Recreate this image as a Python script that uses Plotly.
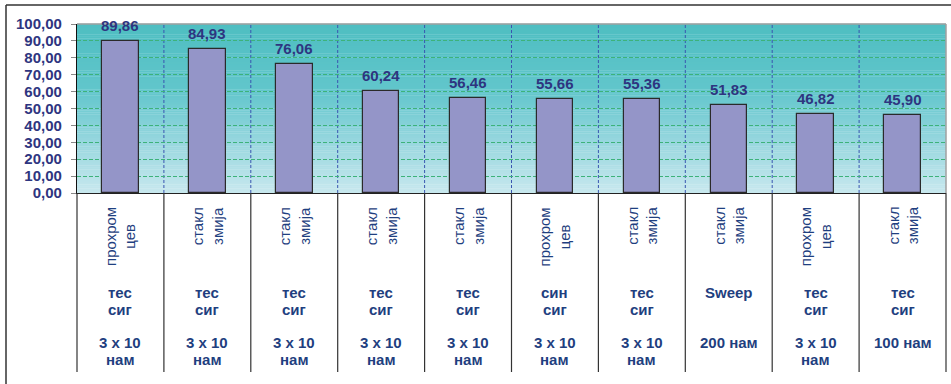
import plotly.graph_objects as go

# ---- data ----
rot_labels = [["прохром", "цев"], ["стакл", "змија"], ["стакл", "змија"], ["стакл", "змија"],
              ["стакл", "змија"], ["прохром", "цев"], ["стакл", "змија"], ["стакл", "змија"],
              ["прохром", "цев"], ["стакл", "змија"]]
signal_labels = [["тес", "сиг"], ["тес", "сиг"], ["тес", "сиг"], ["тес", "сиг"], ["тес", "сиг"],
                 ["син", "сиг"], ["тес", "сиг"], ["Sweep"], ["тес", "сиг"], ["тес", "сиг"]]
length_labels = [["3 x 10", "нам"], ["3 x 10", "нам"], ["3 x 10", "нам"], ["3 x 10", "нам"],
                 ["3 x 10", "нам"], ["3 x 10", "нам"], ["3 x 10", "нам"], ["200 нам"],
                 ["3 x 10", "нам"], ["100 нам"]]
values = [89.86, 84.93, 76.06, 60.24, 56.46, 55.66, 55.36, 51.83, 46.82, 45.90]
y_ticks = [0, 10, 20, 30, 40, 50, 60, 70, 80, 90, 100]

# ---- layout geometry (pixels) ----
W, H = 951, 384
L, R, T, B = 77, 946, 24, 193
n = len(values)
pw, ph = R - L, B - T

def px_x(px):
    return (px - L) / pw

def px_y(py):
    return (B - py) / ph

NAVY = "#2E3580"
LBL = "#1F3F80"
FONT = "Liberation Sans, Arial, sans-serif"

fig = go.Figure()
fig.add_trace(go.Bar(
    x=list(range(n)), y=values, width=0.42,
    marker=dict(color="#9495C8", line=dict(color="#2a2a2a", width=1.2)),
    hoverinfo="skip",
))

shapes = []
# gradient background
stops = [(0.0, (200, 232, 238)), (0.3, (152, 215, 223)), (0.6, (98, 198, 204)), (1.0, (78, 190, 193))]

def col(t):
    for (a, ca), (b, cb) in zip(stops[:-1], stops[1:]):
        if a <= t <= b:
            f = (t - a) / (b - a)
            return "rgb(%d,%d,%d)" % tuple(round(ca[k] + (cb[k] - ca[k]) * f) for k in range(3))
    return "rgb(%d,%d,%d)" % stops[-1][1]

NS = 80
for i in range(NS):
    y0, y1 = i / NS, (i + 1) / NS
    shapes.append(dict(type="rect", xref="paper", yref="paper", x0=0, x1=1, y0=y0, y1=y1 + 0.002,
                       fillcolor=col((y0 + y1) / 2), line=dict(width=0), layer="below"))

# dashed vertical separators inside plot
for i in range(n - 1):
    shapes.append(dict(type="line", xref="x", yref="paper", x0=i + 0.5, x1=i + 0.5, y0=0, y1=1,
                       line=dict(color="#3A55B0", width=1, dash="3px,2px"), layer="below"))
# solid separators below axis
for i in range(n + 1):
    xp = i / n
    shapes.append(dict(type="line", xref="paper", yref="paper", x0=xp, x1=xp, y0=0, y1=px_y(372),
                       line=dict(color="#333333", width=1.2)))
# top / right border of plot area
shapes.append(dict(type="line", xref="paper", yref="paper", x0=0, x1=1, y0=1, y1=1,
                   line=dict(color="#A0A0A0", width=1.5)))
shapes.append(dict(type="line", xref="paper", yref="paper", x0=1, x1=1, y0=0, y1=1,
                   line=dict(color="#A0A0A0", width=1.5)))
# outer frame (top and left)
shapes.append(dict(type="line", xref="paper", yref="paper", x0=px_x(6), x1=px_x(960), y0=px_y(5), y1=px_y(5),
                   line=dict(color="#333333", width=1.5)))
shapes.append(dict(type="line", xref="paper", yref="paper", x0=px_x(6), x1=px_x(6), y0=px_y(5), y1=px_y(400),
                   line=dict(color="#333333", width=1.5)))

annotations = []
for i, v in enumerate(values):
    annotations.append(dict(
        x=i, xref="x", y=v, yref="y", text=f"{v:.2f}".replace(".", ","), showarrow=False,
        xanchor="center", yanchor="bottom", yshift=5,
        font=dict(family=FONT, size=15, color=NAVY, weight="bold")))
for i in range(n):
    annotations.append(dict(
        x=i, xref="x", y=px_y(205), yref="paper", text="<br>".join(rot_labels[i]),
        textangle=-90, showarrow=False, xanchor="center", yanchor="top", align="center",
        font=dict(family=FONT, size=15, color=LBL)))
    for rows, centers in ((signal_labels[i], (292, 309)), (length_labels[i], (342, 359))):
        for line, cy in zip(rows, centers):
            annotations.append(dict(
                x=i, xref="x", y=px_y(cy), yref="paper", text=line, showarrow=False,
                xanchor="center", yanchor="middle",
                font=dict(family=FONT, size=15, color=LBL, weight="bold")))

fig.update_layout(
    width=W, height=H,
    margin=dict(l=L, r=W - R, t=T, b=H - B, pad=0),
    paper_bgcolor="white", plot_bgcolor="rgba(0,0,0,0)",
    separators=",.",
    showlegend=False, bargap=0,
    shapes=shapes, annotations=annotations,
    xaxis=dict(range=[-0.5, n - 0.5], showgrid=False, zeroline=False, showticklabels=False,
               showline=True, linecolor="#222222", linewidth=1.2, ticks=""),
    yaxis=dict(range=[0, 100], tickvals=y_ticks, tickformat=".2f",
               showgrid=True, gridcolor="#3DB27A", griddash="4px,2px", gridwidth=1,
               zeroline=False, showline=True, linecolor="#111111", linewidth=1.2,
               ticks="outside", ticklen=5, tickcolor="#888888", ticklabelstandoff=6,
               tickfont=dict(family=FONT, size=15, color=NAVY, weight="bold")),
)
fig.write_html("out.html")
